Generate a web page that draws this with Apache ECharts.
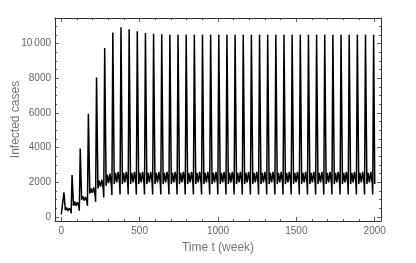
<!DOCTYPE html>
<html>
<head>
<meta charset="utf-8">
<script src="https://cdn.jsdelivr.net/npm/echarts@6/dist/echarts.min.js"></script>
<style>html,body{margin:0;padding:0;background:#fff}#c{width:416px;height:263px}</style>
</head>
<body>
<div id="c"></div>
<script>
// time in weeks
var weeks = [
  0,
  17,26,34,42,51,60,63,
  69,78,86,94,103,112,115,
  121,130,138,146,155,164,167,
  173,182,190,198,207,216,219,
  225,234,242,250,259,268,271,
  277,286,294,302,311,320,323,
  329,338,346,354,363,372,375,
  381,390,398,406,415,424,427,
  433,442,450,458,467,476,479,
  485,494,502,510,519,528,531,
  537,546,554,562,571,580,583,
  589,598,606,614,623,632,635,
  641,650,658,666,675,684,687,
  693,702,710,718,727,736,739,
  745,754,762,770,779,788,791,
  797,806,814,822,831,840,843,
  849,858,866,874,883,892,895,
  901,910,918,926,935,944,947,
  953,962,970,978,987,996,999,
  1005,1014,1022,1030,1039,1048,1051,
  1057,1066,1074,1082,1091,1100,1103,
  1109,1118,1126,1134,1143,1152,1155,
  1161,1170,1178,1186,1195,1204,1207,
  1213,1222,1230,1238,1247,1256,1259,
  1265,1274,1282,1290,1299,1308,1311,
  1317,1326,1334,1342,1351,1360,1363,
  1369,1378,1386,1394,1403,1412,1415,
  1421,1430,1438,1446,1455,1464,1467,
  1473,1482,1490,1498,1507,1516,1519,
  1525,1534,1542,1550,1559,1568,1571,
  1577,1586,1594,1602,1611,1620,1623,
  1629,1638,1646,1654,1663,1672,1675,
  1681,1690,1698,1706,1715,1724,1727,
  1733,1742,1750,1758,1767,1776,1779,
  1785,1794,1802,1810,1819,1828,1831,
  1837,1846,1854,1862,1871,1880,1883,
  1889,1898,1906,1914,1923,1932,1935,
  1941,1950,1958,1966,1975,1984,1987,
  1993,2000
];
// infected cases
var infected = [
  150,
  1420,400,550,350,500,380,210,
  2420,650,900,650,850,600,365,
  3950,1000,1200,950,1150,900,650,
  5950,1350,1650,1400,1700,1250,880,
  8050,1650,2100,1750,2150,1600,1130,
  9750,1800,2450,1950,2500,1800,1270,
  10650,1900,2550,2000,2600,1950,1300,
  10940,1900,2550,2000,2600,1950,1300,
  10830,1900,2550,2000,2600,1950,1300,
  10720,1900,2550,2000,2600,1950,1300,
  10610,1900,2550,2000,2600,1950,1300,
  10570,1900,2550,2000,2600,1950,1300,
  10540,1900,2550,2000,2600,1950,1300,
  10520,1900,2550,2000,2600,1950,1300,
  10520,1900,2550,2000,2600,1950,1300,
  10520,1900,2550,2000,2600,1950,1300,
  10520,1900,2550,2000,2600,1950,1300,
  10520,1900,2550,2000,2600,1950,1300,
  10520,1900,2550,2000,2600,1950,1300,
  10520,1900,2550,2000,2600,1950,1300,
  10520,1900,2550,2000,2600,1950,1300,
  10520,1900,2550,2000,2600,1950,1300,
  10520,1900,2550,2000,2600,1950,1300,
  10520,1900,2550,2000,2600,1950,1300,
  10520,1900,2550,2000,2600,1950,1300,
  10520,1900,2550,2000,2600,1950,1300,
  10520,1900,2550,2000,2600,1950,1300,
  10520,1900,2550,2000,2600,1950,1300,
  10520,1900,2550,2000,2600,1950,1300,
  10520,1900,2550,2000,2600,1950,1300,
  10520,1900,2550,2000,2600,1950,1300,
  10520,1900,2550,2000,2600,1950,1300,
  10520,1900,2550,2000,2600,1950,1300,
  10520,1900,2550,2000,2600,1950,1300,
  10520,1900,2550,2000,2600,1950,1300,
  10520,1900,2550,2000,2600,1950,1300,
  10520,1900,2550,2000,2600,1950,1300,
  10520,1900,2550,2000,2600,1950,1300,
  10520,1900,2550,2000,2600,1950,1300,
  10520,3400
];
var xMajor = [0, 500, 1000, 1500, 2000];
var xMinor = [100,200,300,400,600,700,800,900,1100,1200,1300,1400,1600,1700,1800,1900];
var yMajor = [0, 2000, 4000, 6000, 8000, 10000];
var yMinor = [500,1000,1500,2500,3000,3500,4500,5000,5500,6500,7000,7500,8500,9000,9500,10500,11000];
var xName = 'Time t (week)';
var yName = 'Infected cases';

var points = weeks.map(function (t, i) { return [t, infected[i]]; });
var XMIN = -40, XMAX = 2040, YMIN = -230, YMAX = 11480;
var frameColor = '#333';
var labelColor = '#666';
var font = 'Liberation Sans';

function xAx(pos, ticks, len, showLine, showLabel) {
  return {
    type: 'value', position: pos, min: XMIN, max: XMAX,
    splitLine: { show: false },
    axisLine: { show: showLine, onZero: false, lineStyle: { color: frameColor, width: 1 } },
    axisTick: { show: true, inside: true, length: len, customValues: ticks, lineStyle: { color: frameColor, width: 0.8 } },
    axisLabel: showLabel ? { show: true, customValues: ticks, color: labelColor, fontSize: 10, fontFamily: font, margin: 5,
      formatter: function (v) { return String(v); } } : { show: false }
  };
}
function yAx(pos, ticks, len, showLine, showLabel) {
  return {
    type: 'value', position: pos, min: YMIN, max: YMAX,
    splitLine: { show: false },
    axisLine: { show: showLine, onZero: false, lineStyle: { color: frameColor, width: 1 } },
    axisTick: { show: true, inside: true, length: len, customValues: ticks, lineStyle: { color: frameColor, width: 0.8 } },
    axisLabel: showLabel ? { show: true, customValues: ticks, color: labelColor, fontSize: 10, fontFamily: font, margin: 4,
      formatter: function (v) { return v >= 10000 ? String(v).replace(/(\d+)(\d{3})$/, '$1\u2009$2') : String(v); } } : { show: false }
  };
}

var xa0 = xAx('bottom', xMajor, 4, true, true);
xa0.name = xName; xa0.nameLocation = 'middle'; xa0.nameGap = 21; xa0.nameMoveOverlap = false;
xa0.nameTextStyle = { color: '#777', fontSize: 12, fontFamily: font };
var ya0 = yAx('left', yMajor, 4, true, true);
ya0.name = yName; ya0.nameLocation = 'middle'; ya0.nameGap = 33; ya0.nameMoveOverlap = false;
ya0.nameTextStyle = { color: '#777', fontSize: 12, fontFamily: font };

var chart = echarts.init(document.getElementById('c'), null, { renderer: 'canvas' });
chart.setOption({
  animation: false,
  backgroundColor: '#fff',
  grid: { left: 55, right: 35, top: 18, bottom: 42, containLabel: false, outerBoundsMode: 'none' },
  xAxis: [
    xa0,
    xAx('bottom', xMinor, 2, false, false),
    xAx('top', xMajor, 4, true, false),
    xAx('top', xMinor, 2, false, false)
  ],
  yAxis: [
    ya0,
    yAx('left', yMinor, 2, false, false),
    yAx('right', yMajor, 4, true, false),
    yAx('right', yMinor, 2, false, false)
  ],
  series: [{
    type: 'line', xAxisIndex: 0, yAxisIndex: 0,
    data: points, showSymbol: false, symbol: 'none',
    lineStyle: { color: '#000', width: 1.5 },
    clip: true
  }]
});
</script>
</body>
</html>
